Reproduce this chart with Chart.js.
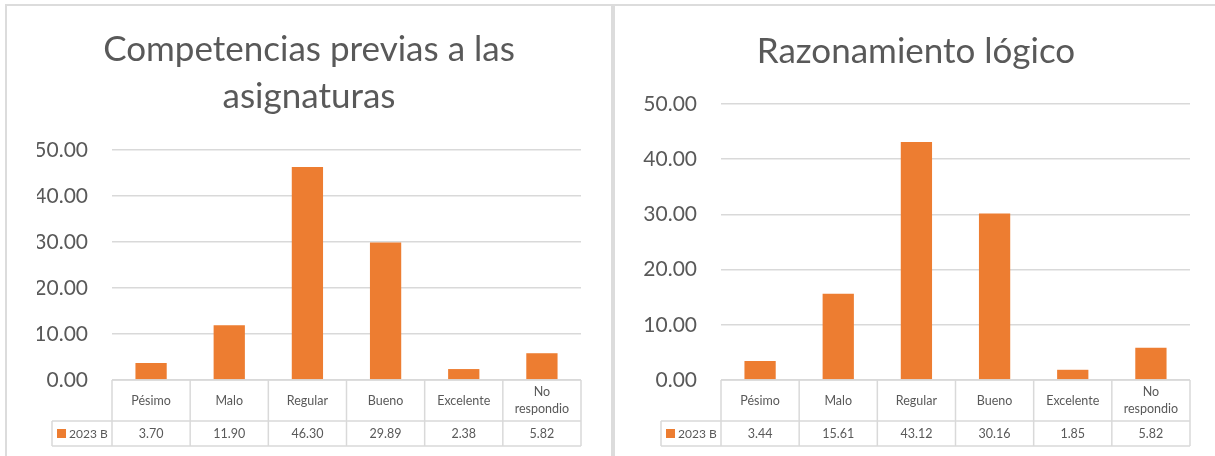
<!DOCTYPE html>
<html>
<head>
<meta charset="utf-8">
<script src="https://cdn.jsdelivr.net/npm/chart.js@4"></script>
<style>
  body { margin: 0; background: #fff; width: 1215px; height: 456px; overflow: hidden; position: relative; }
  .panel { position: absolute; top: 4px; height: 470px; border: 2px solid #dcdcdc; background: #fff; }
  .panel canvas { position: absolute; left: 0; top: 0; }
</style>
</head>
<body>
<div class="panel" style="left:5px; width:604px;"><canvas id="chart-left" width="604" height="450"></canvas></div>
<div class="panel" style="left:613px; width:610px;"><canvas id="chart-right" width="600" height="450"></canvas></div>
<script>
const categories = ['Pésimo', 'Malo', 'Regular', 'Bueno', 'Excelente', ['No', 'respondio']];
const seriesName = '2023 B';
const competenciasValues = [3.70, 11.90, 46.30, 29.89, 2.38, 5.82];
const razonamientoValues = [3.44, 15.61, 43.12, 30.16, 1.85, 5.82];
const yMax = 50;
const yStep = 10;

const barColor = '#ED7D31';
const textColor = '#595959';
const lineColor = '#d9d9d9';
const fontFamily = 'Lato, "Open Sans", sans-serif';

// draws the Excel style data table under the bars
const dataTable = {
    id: 'dataTable',
    afterDraw(chart) {
        const { ctx, chartArea: a, scales: { x } } = chart;
        const values = chart.data.datasets[0].data;
        const n = values.length;
        const w = (a.right - a.left) / n;
        const top = a.bottom, mid = top + 41, bot = mid + 25;
        const legLeft = a.left - 60;

        ctx.save();
        ctx.strokeStyle = lineColor;
        ctx.lineWidth = 1.5;
        const line = (x1, y1, x2, y2) => {
            ctx.beginPath(); ctx.moveTo(x1, y1); ctx.lineTo(x2, y2); ctx.stroke();
        };
        line(a.left, top, a.right, top);
        line(legLeft, mid, a.right, mid);
        line(legLeft, bot, a.right, bot);
        line(legLeft, mid, legLeft, bot);
        for (let i = 0; i <= n; i++) {
            const cx = i < n ? x.getPixelForValue(i) - w / 2 : x.getPixelForValue(n - 1) + w / 2;
            line(cx, top, cx, bot);
        }

        ctx.fillStyle = textColor;
        ctx.font = '12.5px ' + fontFamily;
        ctx.textAlign = 'center';
        ctx.textBaseline = 'middle';
        chart.data.labels.forEach((lab, i) => {
            const cx = x.getPixelForValue(i);
            const lines = Array.isArray(lab) ? lab : [lab];
            lines.forEach((t, j) => {
                ctx.fillText(t, cx, top + 20.5 + (j - (lines.length - 1) / 2) * 17);
            });
            ctx.fillText(values[i].toFixed(2), cx, mid + 13);
        });

        ctx.fillStyle = barColor;
        ctx.fillRect(legLeft + 5, mid + 8, 9, 9);
        ctx.fillStyle = textColor;
        ctx.textAlign = 'left';
        ctx.font = '12px ' + fontFamily;
        ctx.fillText(chart.data.datasets[0].label, legLeft + 17, mid + 13);
        ctx.restore();
    }
};

function makeChart(id, title, values, opts) {
    const ctx = document.getElementById(id).getContext('2d');
    return new Chart(ctx, {
        type: 'bar',
        data: {
            labels: categories,
            datasets: [{
                label: seriesName,
                data: values,
                backgroundColor: barColor,
                barPercentage: 0.4,
                categoryPercentage: 1
            }]
        },
        options: {
            responsive: false,
            animation: false,
            layout: { padding: { left: opts.padLeft, right: opts.padRight, top: 0, bottom: 0 } },
            plugins: {
                legend: { display: false },
                tooltip: { enabled: false },
                title: {
                    display: true,
                    text: title,
                    color: textColor,
                    font: { family: fontFamily, size: 35, weight: 'normal', lineHeight: '47px' },
                    padding: { top: opts.titleTop, bottom: opts.titleBottom }
                }
            },
            scales: {
                x: {
                    grid: { display: false },
                    border: { display: false },
                    ticks: { display: false },
                    afterFit: (s) => { s.height = 76; }
                },
                y: {
                    min: 0,
                    max: yMax,
                    grid: { color: lineColor, lineWidth: 1.5, drawTicks: false },
                    border: { display: false },
                    ticks: {
                        stepSize: yStep,
                        padding: 24,
                        color: textColor,
                        font: { family: fontFamily, size: 21 },
                        callback: v => v.toFixed(2)
                    },
                    afterFit: (s) => { s.width = opts.axisWidth; }
                }
            }
        },
        plugins: [dataTable]
    });
}

makeChart('chart-left', ['Competencias previas a las', 'asignaturas'], competenciasValues,
    { padLeft: 30, padRight: 30, titleTop: 20.5, titleBottom: 29.5, axisWidth: 75 });
makeChart('chart-right', 'Razonamiento lógico', razonamientoValues,
    { padLeft: 27, padRight: 25, titleTop: 22.5, titleBottom: 28.5, axisWidth: 79 });
</script>
</body>
</html>
